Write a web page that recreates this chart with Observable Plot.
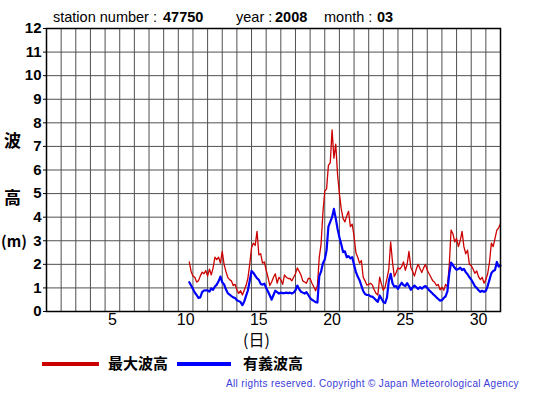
<!DOCTYPE html>
<html>
<head>
<meta charset="utf-8">
<script src="https://cdn.jsdelivr.net/npm/d3@7"></script>
<script src="https://cdn.jsdelivr.net/npm/@observablehq/plot@0.6"></script>
<style>
  body { margin: 0; background: #fff; }
  #wrap { position: relative; width: 555px; height: 395px; background: #fff; font-family: "Liberation Sans", Arial, sans-serif; overflow: hidden; }
  .abs { position: absolute; white-space: nowrap; line-height: 1; }
  .cjk { font-family: "Noto Sans CJK JP", sans-serif; font-weight: bold; }
</style>
</head>
<body>
<div id="wrap"></div>
<script>
// ---- data (3-hourly readings, time in days since 1st 00:00) ----
const startTime = 9.75;   // 10th, 18:00
const stepDays = 0.125;   // 3 hours

const maxWave = [
  2.1, 1.7, 1.5, 1.45, 1.25, 1.3, 1.5, 1.67, 1.6, 1.74,
  1.5, 1.8, 1.55, 1.85, 2.3, 2.2, 2.3, 2.05, 2.55, 2.0,
  1.7, 1.45, 1.35, 1.3, 1.1, 1.15, 0.92, 0.77, 0.88, 0.7,
  0.9, 1.1, 1.4, 2.0, 2.7, 2.9, 2.8, 3.4, 2.4, 2.45,
  2.05, 2.1, 1.75, 1.45, 1.1, 1.25, 1.45, 1.6, 1.2, 1.45,
  1.35, 1.15, 1.55, 1.45, 1.4, 1.4, 1.3, 1.45, 1.6, 1.85,
  1.7, 1.55, 1.3, 1.25, 1.2, 1.4, 1.4, 1.2, 1.05, 0.88,
  1.1, 2.3, 2.87, 4.2, 5.1, 5.2, 6.2, 6.3, 7.7, 6.5,
  7.1, 5.8, 5.0, 4.35, 3.95, 3.8, 4.05, 4.25, 3.6, 3.7,
  3.2, 2.5, 2.3, 2.05, 2.16, 1.45, 1.3, 1.12, 1.15, 1.2,
  1.12, 0.92, 0.77, 0.7, 1.46, 1.15, 0.9, 1.05, 1.4, 1.8,
  2.95, 2.1, 1.48, 1.65, 1.85, 1.8, 1.9, 2.1, 1.75, 2.0,
  2.55, 1.88, 1.7, 1.5, 1.8, 2.0, 1.82, 1.65, 1.85, 2.0,
  1.75, 1.6, 1.45, 1.3, 1.24, 1.1, 1.15, 0.92, 1.03, 0.9,
  1.15, 1.05, 1.95, 3.45, 3.3, 2.95, 3.1, 2.75, 3.0, 3.4,
  2.75, 2.45, 2.6, 2.0, 1.95, 1.8, 1.62, 1.72, 1.48, 1.35,
  1.45, 1.2, 1.35, 1.6, 2.1, 2.9, 2.75, 3.1, 3.45, 3.55,
  3.72
];

const sigWave = [
  1.24, 1.1, 0.96, 0.8, 0.7, 0.58, 0.6, 0.82, 0.89, 0.9,
  0.9, 0.84, 0.98, 0.92, 1.06, 1.14, 1.28, 1.48, 1.24, 1.15,
  0.94, 0.78, 0.72, 0.65, 0.6, 0.57, 0.48, 0.44, 0.4, 0.27,
  0.42, 0.66, 0.89, 1.3, 1.72, 1.64, 1.52, 1.41, 1.34, 1.17,
  1.14, 1.18, 1.0, 0.85, 0.68, 0.5, 0.7, 0.88, 0.82, 0.76,
  0.8, 0.78, 0.78, 0.8, 0.78, 0.8, 0.76, 0.8, 0.9, 1.1,
  0.95, 0.84, 0.8, 0.76, 0.82, 0.7, 0.57, 0.5, 0.45, 0.4,
  0.38, 1.5, 1.7, 2.05, 2.2, 2.6, 3.6, 3.8, 4.0, 4.35,
  3.95, 3.5, 3.15, 2.85, 2.52, 2.55, 2.3, 2.35, 2.25, 2.3,
  1.98, 1.68, 1.48, 1.33, 1.1, 0.87, 0.74, 0.7, 0.7, 0.64,
  0.63, 0.56, 0.48, 0.41, 0.68, 0.54, 0.4, 0.36, 0.6, 1.3,
  1.6, 1.2, 1.05, 1.08, 0.96, 1.1, 1.22, 1.12, 1.08, 1.2,
  1.08, 0.92, 1.02, 1.1, 1.03, 0.96, 1.03, 0.97, 1.04, 1.08,
  1.0, 0.9, 0.83, 0.75, 0.68, 0.6, 0.53, 0.46, 0.48, 0.57,
  0.64, 0.85, 1.6, 2.07, 1.97, 1.85, 1.77, 1.8, 1.86, 1.76,
  1.81, 1.67, 1.58, 1.45, 1.36, 1.22, 1.07, 1.0, 0.9, 0.83,
  0.88, 0.83, 0.88, 1.08, 1.35, 1.62, 1.72, 1.76, 2.1, 1.9,
  1.95
];

const yTicks = [0, 1, 2, 3, 4, 5, 6, 7, 8, 9, 10, 11, 12];
const dayLabels = [5, 10, 15, 20, 25, 30];
const dayBoundaries = d3.range(1, 31);
const hLines = d3.range(1, 12);

const seriesNames = ["最大波高", "有義波高"];
const seriesColors = ["#cc0000", "#0000ff"];

// ---- build tables ----
const maxData = maxWave.map((v, i) => ({t: startTime + i * stepDays, v}));
const sigData = sigWave.map((v, i) => ({t: startTime + i * stepDays, v}));

const chart = Plot.plot({
  width: 555,
  height: 395,
  marginLeft: 46,
  marginRight: 55,
  marginTop: 28,
  marginBottom: 84,
  style: {fontFamily: "'Liberation Sans', Arial, sans-serif", background: "#fff", color: "#000"},
  x: {domain: [0, 31]},
  y: {domain: [0, 12]},
  marks: [
    Plot.ruleX(dayBoundaries, {x: d => d, stroke: "#505050", strokeWidth: 1}),
    Plot.ruleY(hLines, {y: d => d, stroke: "#505050", strokeWidth: 1}),
    Plot.line(maxData, {x: "t", y: "v", stroke: seriesColors[0], strokeWidth: 1.3}),
    Plot.line(sigData, {x: "t", y: "v", stroke: seriesColors[1], strokeWidth: 2.2}),
    Plot.frame({stroke: "#000", strokeWidth: 1.5}),
    Plot.axisY({ticks: yTicks, tickSize: 3, tickPadding: 2, fontSize: 15, fontWeight: "bold", label: null, tickFormat: d => String(d)}),
    Plot.axisX({ticks: dayLabels.map(d => d - 0.5), tickSize: 0, tickPadding: 2, fontSize: 16, label: null, tickFormat: d => String(d + 0.5)})
  ]
});
const wrap = document.getElementById("wrap");
wrap.appendChild(chart);

function addText(txt, left, top, style, cls) {
  const el = document.createElement("div");
  el.className = "abs" + (cls ? " " + cls : "");
  el.textContent = txt;
  el.style.left = left + "px";
  el.style.top = top + "px";
  Object.assign(el.style, style || {});
  wrap.appendChild(el);
  return el;
}
// header
addText("station number : ", 53, 10, {fontSize: "14.5px"});
addText("47750", 163, 10, {fontSize: "14.5px", fontWeight: "bold"});
addText("year : ", 236, 10, {fontSize: "14.5px"});
addText("2008", 275, 10, {fontSize: "14.5px", fontWeight: "bold"});
addText("month : ", 324, 10, {fontSize: "14.5px"});
addText("03", 377, 10, {fontSize: "14.5px", fontWeight: "bold"});
// y axis title
addText("波", 4, 131, {fontSize: "17px"}, "cjk");
addText("高", 4, 188, {fontSize: "17px"}, "cjk");
addText("(m)", 1, 233, {fontSize: "15px"}, "cjk");
// x axis title
addText("(日)", 243, 331, {fontSize: "16px", fontWeight: "normal"}, "cjk");
// legend
function legendLine(left, width, color) {
  const el = document.createElement("div");
  el.style.cssText = `position:absolute;left:${left}px;top:362px;width:${width}px;height:4px;background:${color}`;
  wrap.appendChild(el);
}
legendLine(42, 57, seriesColors[0]);
addText(seriesNames[0], 108, 355, {fontSize: "15px"}, "cjk");
legendLine(177, 54, seriesColors[1]);
addText(seriesNames[1], 243, 355, {fontSize: "15px"}, "cjk");
// copyright
addText("All rights reserved. Copyright © Japan Meteorological Agency", 226, 379, {fontSize: "10px", color: "#3a3ad8", letterSpacing: "0.35px"});
</script>
</body>
</html>
